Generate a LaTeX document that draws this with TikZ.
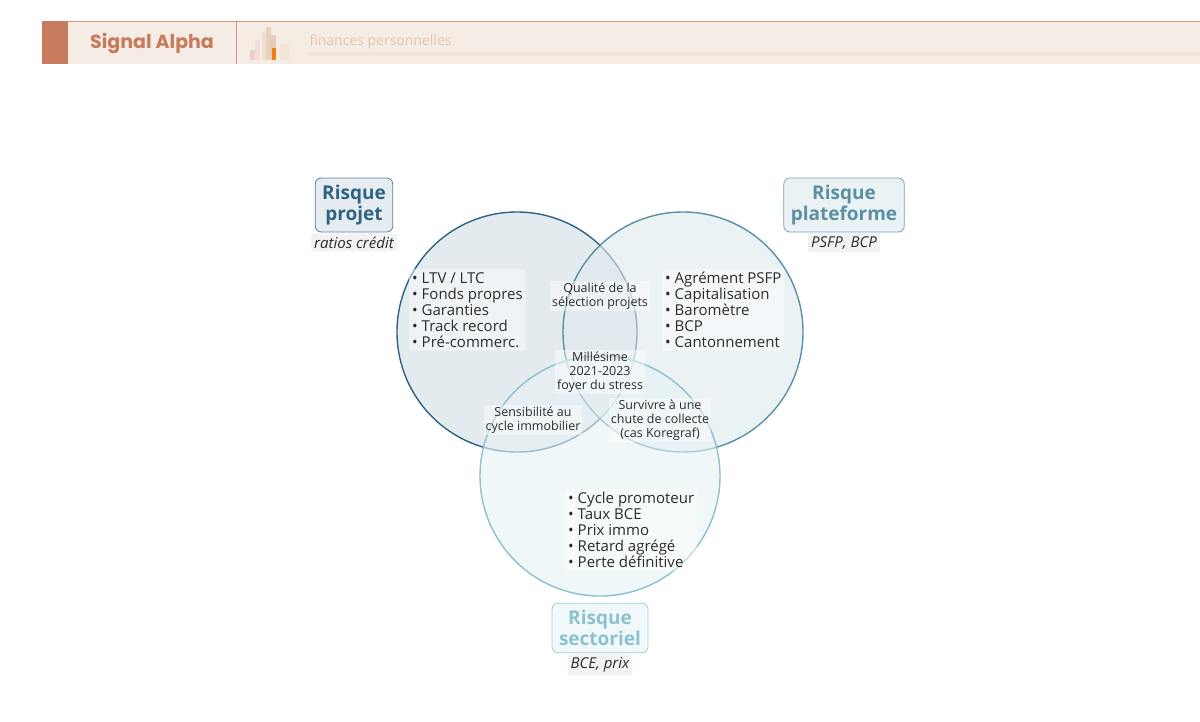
\documentclass[tikz,border=0pt]{standalone}
\usepackage{fontspec}
\setmainfont{Open Sans}
\newfontfamily\titlefont{Poppins}
\usetikzlibrary{positioning}
\definecolor{projet}{HTML}{2F6385}
\definecolor{plateforme}{HTML}{5A8FA4}
\definecolor{sectoriel}{HTML}{8CC2CE}
\definecolor{brand}{HTML}{C77B5C}
\definecolor{band}{HTML}{F6ECE6}
\definecolor{txt}{HTML}{2B2B2B}
\begin{document}
\begin{tikzpicture}[x=1pt,y=-1pt,
  cercle/.style={circle, minimum size=240pt, line width=1.4pt, fill opacity=0.6, text opacity=1},
  titre/.style={rectangle, rounded corners=6pt, draw=#1!80, fill=#1!12, line width=0.8pt, text=#1, font=\fontsize{19}{21}\selectfont\bfseries, align=center, inner sep=7pt},
  sous/.style={rectangle, rounded corners=2pt, fill=black!5, font=\fontsize{15}{17}\selectfont\itshape, text=txt, inner sep=3pt},
  liste/.style={rectangle, rounded corners=2pt, fill=white, fill opacity=0.45, text opacity=1, font=\fontsize{15}{16}\selectfont, text=txt, align=left, inner sep=3pt},
  inter/.style={rectangle, fill=white, fill opacity=0.45, text opacity=1, font=\fontsize{12.5}{14}\selectfont, text=txt, align=center, inner sep=2pt}]
\useasboundingbox (0,0) rectangle (1200,721);

%%% HEADER
\fill [band] (42,21) rectangle (1200,64);
\draw [brand!80, line width=0.8pt] (42,21) -- (1200,21);
\fill [brand] (42,21) rectangle (68,64);
\draw [brand!80, line width=0.8pt] (236,21) -- (236,64);
\node [font=\titlefont\fontsize{19}{21}\selectfont\bfseries, text=brand] (brand-name) at (152,43) {Signal Alpha};
\fill [brand!35] (250,50) rectangle (255,60);
\fill [brand!25] (255,40) rectangle (260,60);
\fill [brown!25] (262,32) rectangle (267,60);
\fill [brown!35] (266,27) rectangle (271,60);
\fill [brand!40] (270,35) rectangle (276,60);
\fill [orange!70!brown] (272,48) rectangle (276,60);
\fill [brown!20] (280,44) rectangle (289,60);
\node [anchor=west, font=\fontsize{14}{16}\selectfont, text=brown!45!white] (brand-sub) at (306,42) {finances personnelles};
\fill [brown!20] (307,52) rectangle (1200,56);

%%% CIRCLES
\node [cercle, draw=projet, fill=projet!22] (c-projet) at (517,332) {};
\node [cercle, draw=plateforme, fill=plateforme!20] (c-plateforme) at (683,332) {};
\node [cercle, draw=sectoriel, fill=sectoriel!22] (c-sectoriel) at (600,476) {};

%%% TITLES
\node [titre=projet] (t-projet) at (354,205) {Risque\\projet};
\node [sous, below=1pt of t-projet] (s-projet) {ratios crédit};
\node [titre=plateforme] (t-plateforme) at (844,205) {Risque\\plateforme};
\node [sous, below=1pt of t-plateforme] (s-plateforme) {PSFP, BCP};
\node [titre=sectoriel] (t-sectoriel) at (600,628) {Risque\\sectoriel};
\node [sous, below=1pt of t-sectoriel] (s-sectoriel) {BCE, prix};

%%% LISTS
\node [liste, anchor=north west] (l-projet) at (409,269) {\textbullet\ LTV / LTC\\ \textbullet\ Fonds propres\\ \textbullet\ Garanties\\ \textbullet\ Track record\\ \textbullet\ Pré-commerc.};
\node [liste, anchor=north west] (l-plateforme) at (662,269) {\textbullet\ Agrément PSFP\\ \textbullet\ Capitalisation\\ \textbullet\ Baromètre\\ \textbullet\ BCP\\ \textbullet\ Cantonnement};
\node [liste, anchor=north west] (l-sectoriel) at (565,489) {\textbullet\ Cycle promoteur\\ \textbullet\ Taux BCE\\ \textbullet\ Prix immo\\ \textbullet\ Retard agrégé\\ \textbullet\ Perte définitive};

%%% INTERSECTIONS
\node [inter] (i-pp) at (600,296) {Qualité de la\\sélection projets};
\node [inter] (i-centre) at (600,372) {Millésime\\2021-2023\\foyer du stress};
\node [inter] (i-ps) at (533,420) {Sensibilité au\\cycle immobilier};
\node [inter] (i-pls) at (660,420) {Survivre à une\\chute de collecte\\(cas Koregraf)};

\end{tikzpicture}
\end{document}
